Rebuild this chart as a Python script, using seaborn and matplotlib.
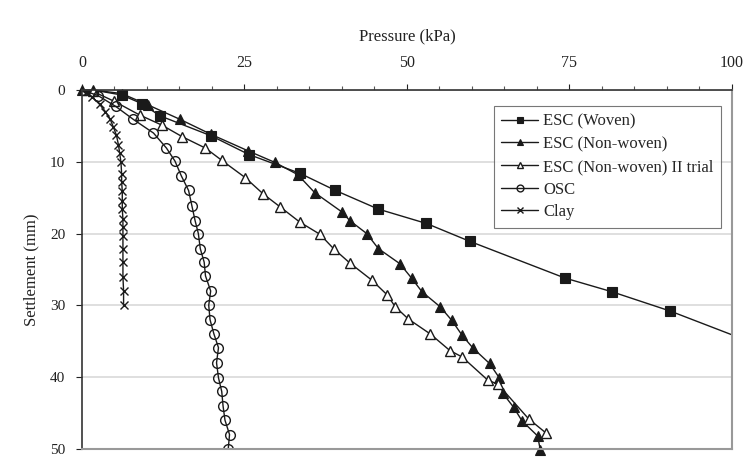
import matplotlib
matplotlib.use("Agg")
import matplotlib.pyplot as plt
import seaborn as sns
import pandas as pd

# ---------------- data ----------------
woven_p = [0, 1.7, 6.1, 9.2, 12.0, 19.9, 25.7, 33.5, 39.0, 45.6, 53.0, 59.7, 74.3, 81.5, 90.5, 106.0]
woven_s = [0, 0.0, 0.7, 1.9, 3.6, 6.4, 9.0, 11.6, 14.0, 16.6, 18.6, 21.1, 26.2, 28.1, 30.8, 36.2]

nonwoven_p = [0, 1.7, 6.1, 10.2, 15.1, 19.9, 25.6, 29.7, 33.2, 35.8, 40.0, 41.2, 43.8, 45.6,
              48.9, 50.7, 52.3, 55.1, 56.9, 58.5, 60.2, 62.7, 64.2, 64.7, 66.4, 67.7, 70.1, 70.5]
nonwoven_s = [0, 0.0, 0.5, 2.1, 4.1, 6.2, 8.5, 10.1, 11.8, 14.3, 17.0, 18.2, 20.0, 22.1,
              24.2, 26.2, 28.1, 30.2, 32.1, 34.2, 36.0, 38.1, 40.1, 42.2, 44.2, 46.1, 48.2, 50.1]

trial2_p = [0, 1.7, 5.0, 8.9, 12.3, 15.4, 19.0, 21.5, 25.1, 27.9, 30.5, 33.5, 36.6, 38.7,
            41.2, 44.6, 46.9, 48.2, 50.2, 53.6, 56.6, 58.5, 62.4, 64.0, 68.7, 71.4]
trial2_s = [0, 0.2, 1.6, 3.5, 4.9, 6.5, 8.1, 9.8, 12.2, 14.5, 16.3, 18.4, 20.1, 22.1,
            24.1, 26.5, 28.5, 30.2, 31.9, 34.0, 36.3, 37.2, 40.4, 41.0, 45.8, 47.8]

osc_p = [0, 2.5, 5.2, 7.9, 11.0, 13.0, 14.3, 15.3, 16.4, 16.9, 17.4, 17.9, 18.2, 18.8, 19.0,
         19.8, 19.5, 19.7, 20.3, 21.0, 20.7, 21.0, 21.5, 21.7, 22.0, 22.7, 22.5]
osc_s = [0, 0.8, 2.3, 4.1, 6.0, 8.1, 9.9, 12.0, 14.0, 16.1, 18.2, 20.0, 22.1, 24.0, 25.9,
         28.0, 30.0, 32.0, 34.0, 35.9, 38.0, 40.1, 42.0, 44.0, 46.0, 48.0, 50.0]

clay_p = [0, 1.6, 2.7, 3.6, 4.3, 4.8, 5.3, 5.6, 5.8, 6.0, 6.1, 6.1, 6.2, 6.2, 6.2, 6.3,
          6.3, 6.3, 6.3, 6.3, 6.3, 6.4, 6.4]
clay_s = [0, 1.0, 2.0, 3.0, 4.0, 5.1, 6.3, 7.6, 8.8, 10.1, 11.7, 12.8, 14.1, 15.5, 16.6,
          18.0, 19.1, 20.3, 22.1, 24.0, 26.0, 28.0, 30.0]

series_names = ["ESC (Woven)", "ESC (Non-woven)", "ESC (Non-woven) II trial", "OSC", "Clay"]
x_ticks = [0, 25, 50, 75, 100]
y_ticks = [0, 10, 20, 30, 40, 50]

# ---------------- style ----------------
sns.set_theme(style="white")
plt.rcParams["font.family"] = ["Liberation Serif", "DejaVu Serif"]

fig = plt.figure(figsize=(7.48, 4.59), dpi=100)
ax = fig.add_axes([0.1096, 0.022, 0.869, 0.782])

lc = "#1a1a1a"
styles = [
    dict(marker="s", ms=7, mfc=lc, mec=lc),
    dict(marker="^", ms=7, mfc=lc, mec=lc),
    dict(marker="^", ms=7, mfc="white", mec=lc, mew=1.0),
    dict(marker="o", ms=7, mfc="none", mec=lc, mew=1.0),
    dict(marker="x", ms=6, mfc=lc, mec=lc, mew=1.0),
]
data = [(woven_p, woven_s), (nonwoven_p, nonwoven_s), (trial2_p, trial2_s),
        (osc_p, osc_s), (clay_p, clay_s)]

for name, (px, sy), st in zip(series_names, data, styles):
    df = pd.DataFrame({"p": px, "s": sy})
    sns.lineplot(data=df, x="p", y="s", sort=False, estimator=None, ax=ax,
                 color=lc, linewidth=1.0, label=name,
                 marker=st["marker"], markersize=st["ms"],
                 markerfacecolor=st["mfc"], markeredgecolor=st["mec"],
                 markeredgewidth=st.get("mew", 0.8))

# let the last non-woven marker hang over the bottom edge like the reference
ax.lines[1].set_clip_on(False)

ax.set_xlim(0, 100)
ax.set_ylim(50, 0)
ax.xaxis.tick_top()
ax.xaxis.set_label_position("top")
ax.set_xticks(x_ticks)
ax.set_yticks(y_ticks)
ax.set_xticks(range(0, 101, 5), minor=True)
ax.set_yticks(range(0, 51, 2), minor=True)
ax.tick_params(axis="x", which="major", direction="out", length=4, width=0.8,
               labelsize=11.5, pad=10, colors="#222222")
ax.tick_params(axis="x", which="minor", direction="out", length=3, width=0.8, colors="#555555")
ax.tick_params(axis="y", which="major", direction="out", length=4, width=0.8,
               labelsize=11, pad=8, colors="#222222")
ax.tick_params(axis="y", which="minor", direction="out", length=3, width=0.8, colors="#555555")
ax.tick_params(top=True, bottom=False, left=True, right=False)

ax.set_xlabel("Pressure (kPa)", fontsize=12, labelpad=10, color="#222222")
ax.set_ylabel("Settlement (mm)", fontsize=12, labelpad=8, color="#222222")

ax.grid(axis="y", which="major", color="#d9d9d9", linewidth=1.2)
ax.grid(axis="x", visible=False)
for side in ["left", "top"]:
    ax.spines[side].set_color("#333333")
    ax.spines[side].set_linewidth(1.2)
for side in ["right", "bottom"]:
    ax.spines[side].set_color("#999999")
    ax.spines[side].set_linewidth(1.5)

leg = ax.legend(loc="upper right", bbox_to_anchor=(0.983, 0.955), borderaxespad=0,
                fontsize=12, frameon=True, fancybox=False, edgecolor="#555555",
                handlelength=2.2, handletextpad=0.3, labelspacing=0.4,
                borderpad=0.45, markerscale=0.7)
leg.get_frame().set_linewidth(0.8)

fig.savefig("out.png", dpi=100)
